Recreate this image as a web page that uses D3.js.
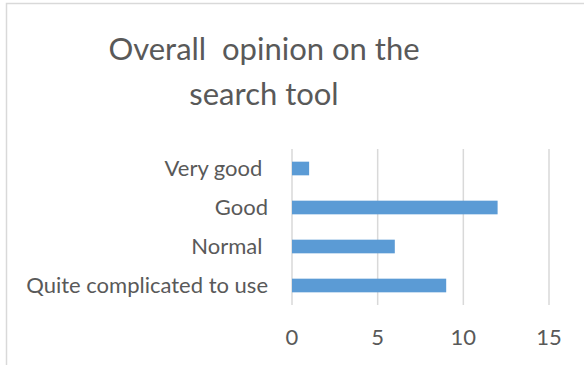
<!DOCTYPE html>
<meta charset="utf-8">
<style>
    body { margin: 0; background: #fff; }
    text { font-family: Lato, "Open Sans", sans-serif; fill: #595959; white-space: pre; }
</style>
<body>
<script src="https://d3js.org/d3.v7.min.js"></script>
<script>
    // chart data
    var categories = ["Very good ", "Good", "Normal ", "Quite complicated to use"];
    var values = [1, 12, 6, 9];
    var xTicks = [0, 5, 10, 15];
    var titleLines = ["Overall  opinion on the", "search tool"];

    var W = 584, H = 365;
    var plot = { left: 292, right: 549, top: 149, bottom: 305 };

    var svg = d3.select("body").append("svg")
        .attr("width", W)
        .attr("height", H);

    // chart border (runs off the right/bottom edges)
    svg.append("rect")
        .attr("x", 6.5).attr("y", 3.5)
        .attr("width", W + 10).attr("height", H + 10)
        .attr("fill", "none")
        .attr("stroke", "#d9d9d9")
        .attr("stroke-width", 1.5);

    // title
    svg.append("g").selectAll("text")
        .data(titleLines)
        .enter().append("text")
        .attr("x", 264)
        .attr("y", function (d, i) { return 60 + i * 45; })
        .attr("text-anchor", "middle")
        .style("font-size", "31px")
        .text(function (d) { return d; });

    var x = d3.scaleLinear().domain([0, 15]).range([plot.left, plot.right]);
    var y = d3.scaleBand().domain(categories)
        .range([plot.top, plot.bottom])
        .paddingInner(0.65).paddingOuter(0.325);

    // gridlines
    svg.append("g").selectAll("line")
        .data(xTicks)
        .enter().append("line")
        .attr("x1", function (d) { return x(d); })
        .attr("x2", function (d) { return x(d); })
        .attr("y1", plot.top)
        .attr("y2", plot.bottom)
        .attr("stroke", "#d9d9d9")
        .attr("stroke-width", 1.5);

    // bars
    svg.append("g").selectAll("rect")
        .data(values)
        .enter().append("rect")
        .attr("x", x(0))
        .attr("y", function (d, i) { return y(categories[i]); })
        .attr("width", function (d) { return x(d) - x(0); })
        .attr("height", y.bandwidth())
        .attr("fill", "#5b9bd5");

    // category labels
    svg.append("g").selectAll("text")
        .data(categories)
        .enter().append("text")
        .attr("x", 268)
        .attr("y", function (d) { return y(d) + y.bandwidth() / 2; })
        .attr("dy", "0.32em")
        .attr("text-anchor", "end")
        .style("font-size", "22px")
        .text(function (d) { return d; });

    // x tick labels
    svg.append("g").selectAll("text")
        .data(xTicks)
        .enter().append("text")
        .attr("x", function (d) { return x(d); })
        .attr("y", 345)
        .attr("text-anchor", "middle")
        .style("font-size", "22px")
        .text(function (d) { return d; });
</script>
</body>
